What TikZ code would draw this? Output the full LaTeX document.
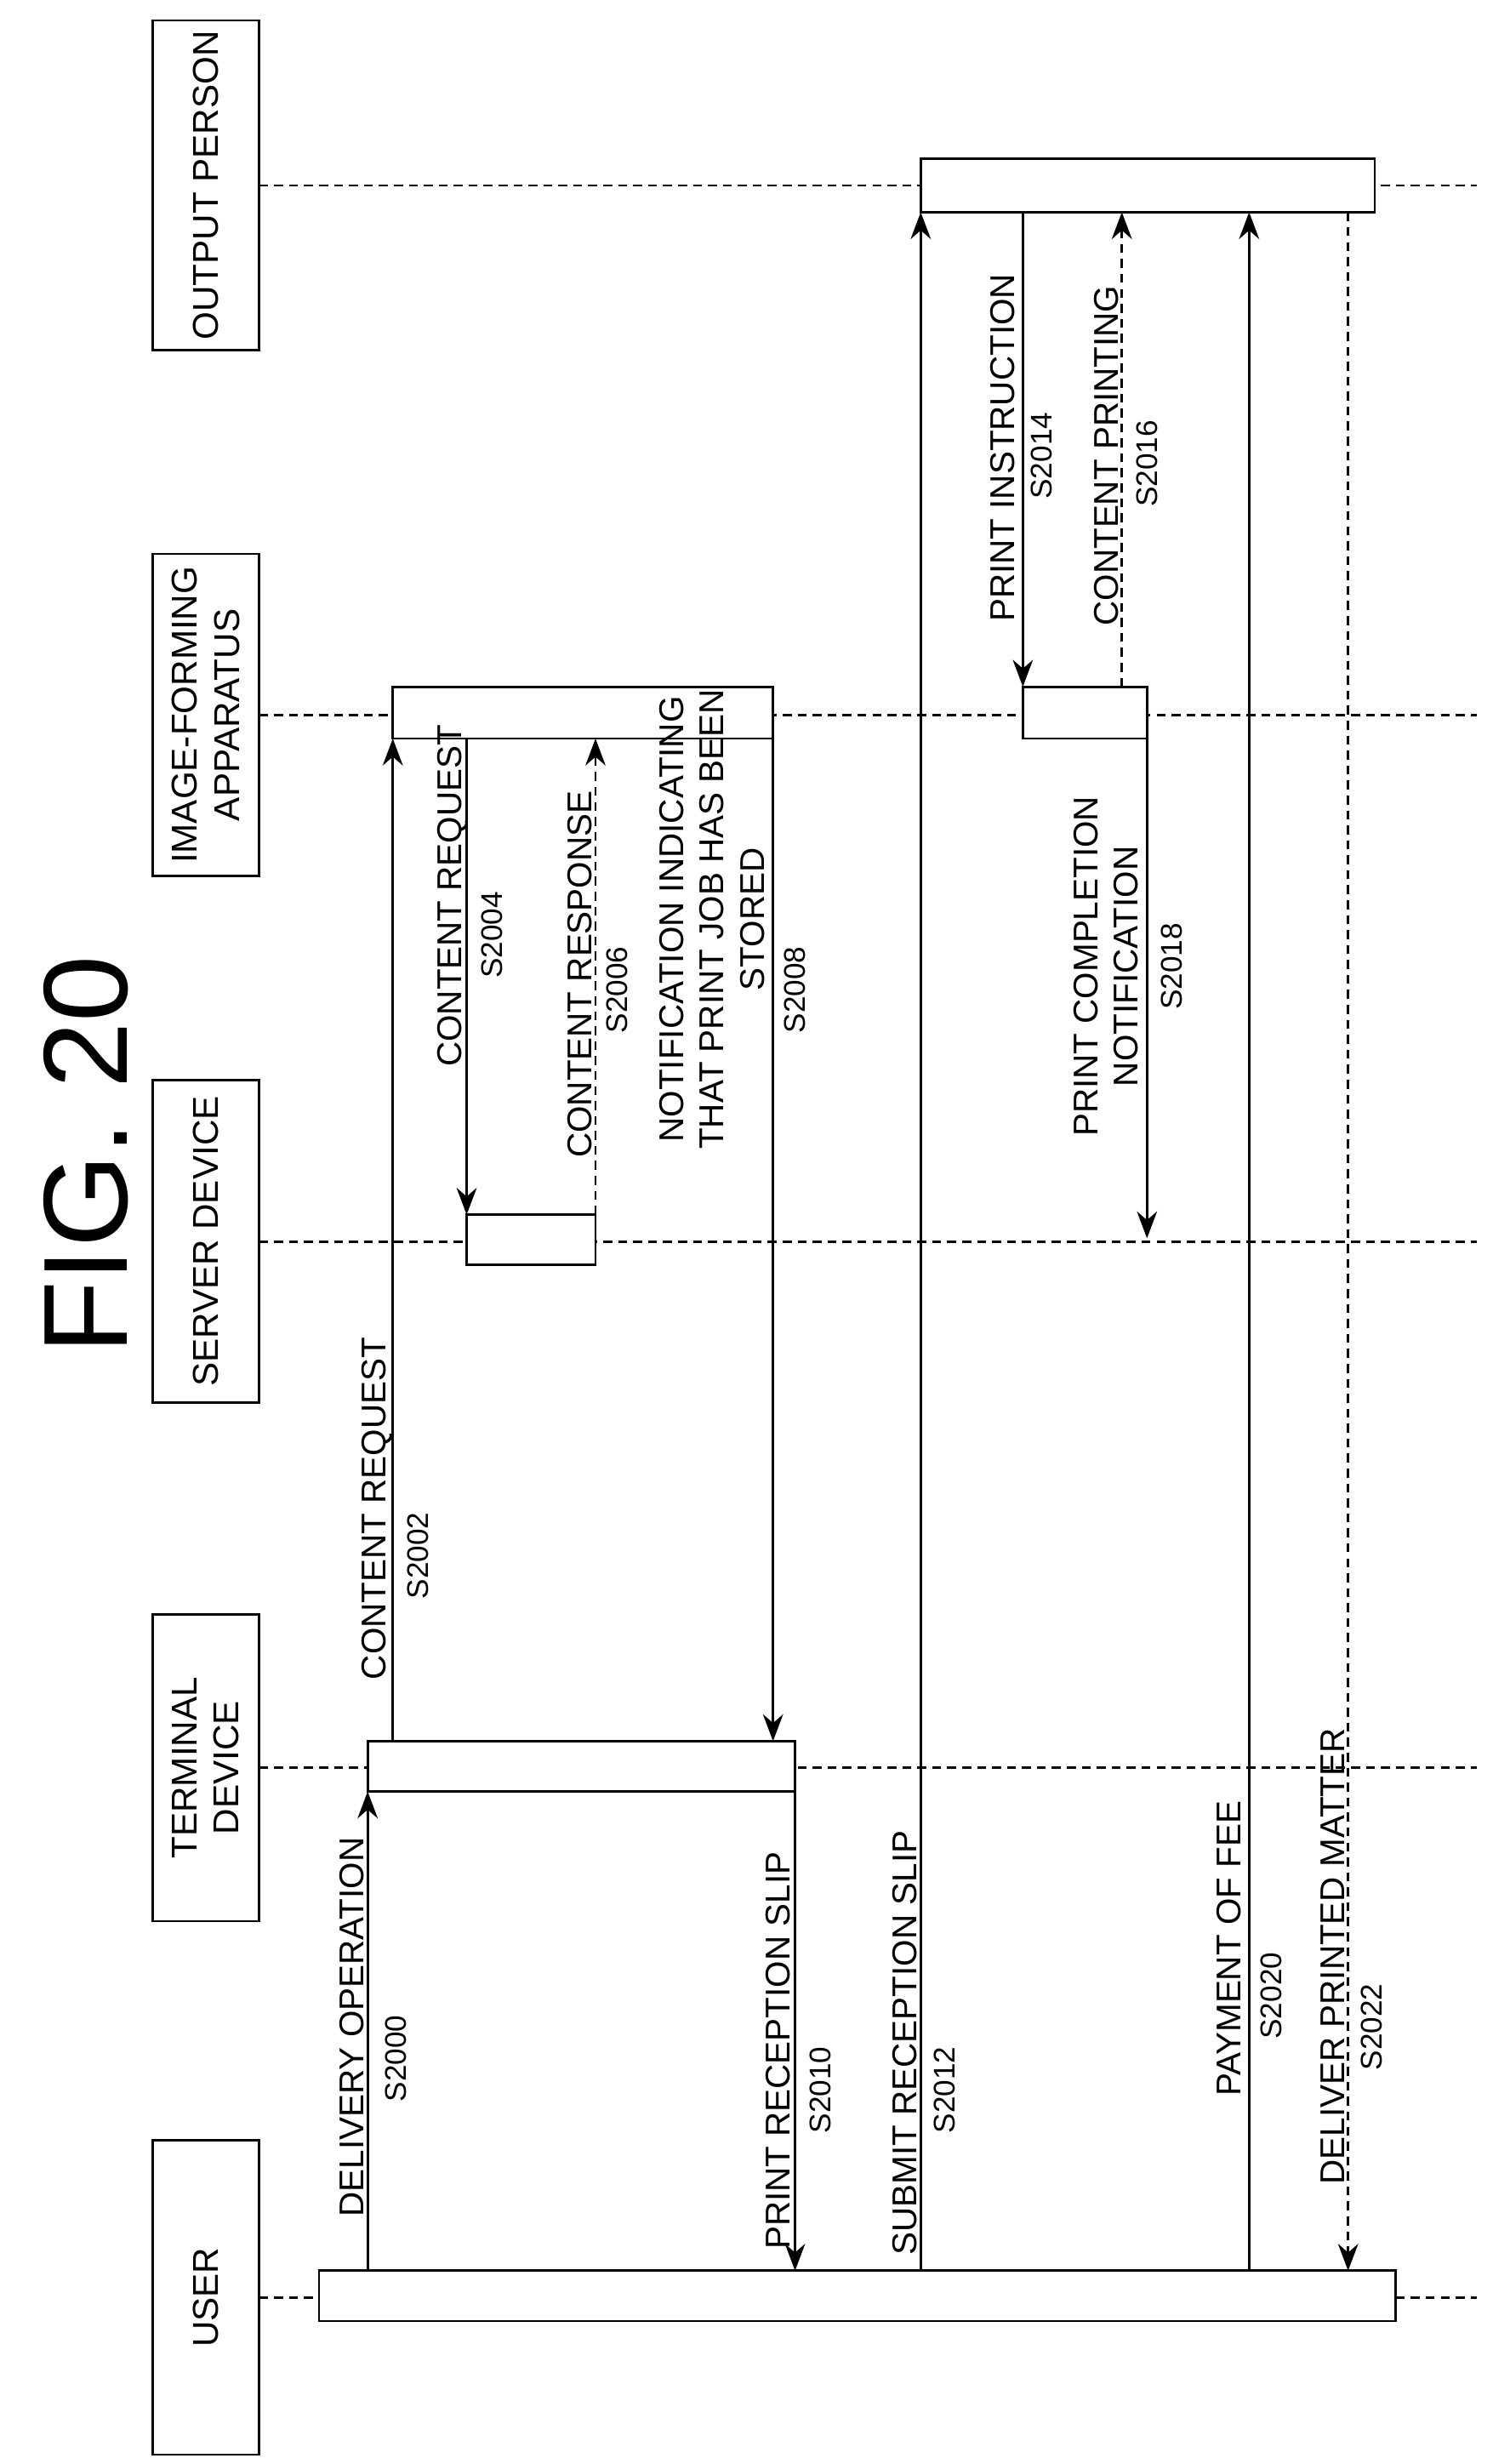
\documentclass[tikz,border=0pt]{standalone}
\usepackage{fontspec}
\setmainfont{Liberation Sans}
\usetikzlibrary{arrows.meta}
\tikzset{
    actor/.style={draw, thick, rotate=90, align=center, font=\large}, % actor boxes
    life/.style={densely dashed, thick}, % lifelines
    act/.style={draw, thick, fill=white}, % activation boxes
    msg/.style={thick, -{Stealth[length=9pt]}},
    lbl/.style={rotate=90, font=\fontsize{11.5}{13.5}\selectfont, align=center},
    stepno/.style={rotate=90, font=\normalsize}
}
\begin{document}
\begin{tikzpicture}[x=0.01847cm, y=-0.01847cm]
    \useasboundingbox (0,0) rectangle (950,1568);
    \node[rotate=90, font=\fontsize{40}{42}\selectfont] (title) at (55,735) {FIG. 20};

    % actors and lifelines
    \foreach \name/\y/\w/\txt in {op/118/210/OUTPUT PERSON, ifa/455/205/{IMAGE-FORMING\\APPARATUS},
        srv/790/205/SERVER DEVICE, term/1125/195/{TERMINAL\\DEVICE}, user/1462/200/USER} {
        \node[actor, minimum width=\w*0.01847cm, minimum height=68*0.01847cm] (\name) at (131,\y) {\txt};
        \draw[life] (165,\y) -- (940,\y);
    }

    % activation boxes
    \filldraw[act] (586,101) rectangle (875,135);
    \filldraw[act] (250,437) rectangle (492,470);
    \filldraw[act] (651,437) rectangle (730,470);
    \filldraw[act] (297,773) rectangle (379,805);
    \filldraw[act] (234,1108) rectangle (506,1140);
    \filldraw[act] (203,1445) rectangle (888,1477);

    % messages
    \draw[msg] (234,1445) -- (234,1140);
    \node[lbl] (m2000) at (224,1290) {DELIVERY OPERATION};
    \node[stepno] (s2000) at (252,1310) {S2000};
    \draw[msg] (250,1108) -- (250,470);
    \node[lbl] (m2002) at (240,960) {CONTENT REQUEST};
    \node[stepno] (s2002) at (266,990) {S2002};
    \draw[msg] (297,470) -- (297,773);
    \node[lbl] (m2004) at (288,570) {CONTENT REQUEST};
    \node[stepno] (s2004) at (313,595) {S2004};
    \draw[msg, densely dashed] (379,773) -- (379,470);
    \node[lbl] (m2006) at (369,620) {CONTENT RESPONSE};
    \node[stepno] (s2006) at (393,630) {S2006};
    \draw[msg] (492,470) -- (492,1108);
    \node[lbl] (m2008) at (453,585) {NOTIFICATION INDICATING\\THAT PRINT JOB HAS BEEN\\STORED};
    \node[stepno] (s2008) at (506,630) {S2008};
    \draw[msg] (506,1140) -- (506,1445);
    \node[lbl] (m2010) at (495,1305) {PRINT RECEPTION SLIP};
    \node[stepno] (s2010) at (522,1330) {S2010};
    \draw[msg] (586,1445) -- (586,135);
    \node[lbl] (m2012) at (576,1300) {SUBMIT RECEPTION SLIP};
    \node[stepno] (s2012) at (601,1330) {S2012};
    \draw[msg] (651,135) -- (651,437);
    \node[lbl] (m2014) at (638,285) {PRINT INSTRUCTION};
    \node[stepno] (s2014) at (663,290) {S2014};
    \draw[msg, densely dashed] (714,437) -- (714,135);
    \node[lbl] (m2016) at (704,290) {CONTENT PRINTING};
    \node[stepno] (s2016) at (730,295) {S2016};
    \draw[msg] (730,470) -- (730,788);
    \node[lbl] (m2018) at (704,615) {PRINT COMPLETION\\NOTIFICATION};
    \node[stepno] (s2018) at (746,615) {S2018};
    \draw[msg] (795,1445) -- (795,135);
    \node[lbl] (m2020) at (782,1240) {PAYMENT OF FEE};
    \node[stepno] (s2020) at (809,1270) {S2020};
    \draw[msg, densely dashed] (858,135) -- (858,1445);
    \node[lbl] (m2022) at (848,1245) {DELIVER PRINTED MATTER};
    \node[stepno] (s2022) at (873,1290) {S2022};
\end{tikzpicture}
\end{document}
